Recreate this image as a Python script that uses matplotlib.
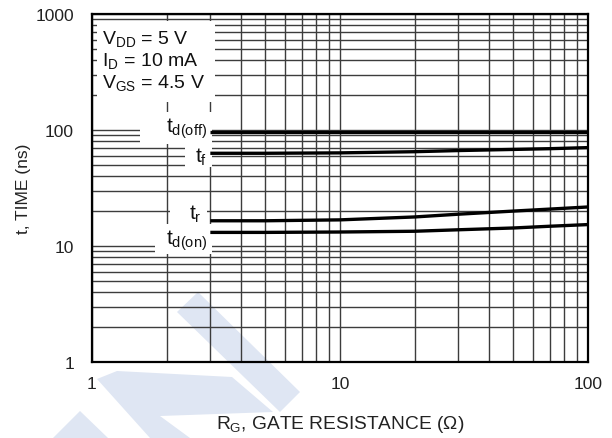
import numpy as np
import matplotlib
matplotlib.use('Agg')
import matplotlib.pyplot as plt
from matplotlib.patches import Rectangle, Polygon

plt.rcParams['font.family'] = ['Liberation Sans', 'DejaVu Sans']
plt.rcParams['mathtext.default'] = 'regular'

# Values
rg = [3, 5, 10, 20, 30, 50, 70, 100]
td_off = [96, 96, 96, 96, 96, 96, 96, 96]
t_f = [63, 63, 63.5, 65, 66.5, 68, 69, 70.5]
t_r = [16.5, 16.5, 16.8, 17.8, 18.8, 20, 20.8, 21.7]
td_on = [13.1, 13.1, 13.2, 13.4, 13.8, 14.3, 14.8, 15.3]

x_ticks = [1, 10, 100]
x_labels = ['1', '10', '100']
y_ticks = [1, 10, 100, 1000]
y_labels = ['1', '10', '100', '1000']

W, H = 612, 439
fig = plt.figure(figsize=(W / 100, H / 100), dpi=100)
fig.patch.set_facecolor('white')

# faint watermark shapes (figure pixels)
wm_color = '#dfe6f3'
shapes = [
    [(177, 313), (198, 293), (300, 393), (280, 413)],
    [(97, 380), (117, 372), (232, 378), (273, 413), (160, 417), (190, 439), (150, 439)],
    [(53, 439), (80, 412), (108, 439)],
]
for s in shapes:
    pts = [(x / W, 1 - y / H) for x, y in s]
    fig.add_artist(Polygon(pts, closed=True, facecolor=wm_color, edgecolor='none',
                           transform=fig.transFigure, zorder=0))

ax = fig.add_axes([92 / W, 1 - 363 / H, (588 - 92) / W, (363 - 15) / H])
ax.set_facecolor('none')
ax.set_zorder(1)
ax.set_xscale('log')
ax.set_yscale('log')
ax.set_xlim(1, 100)
ax.set_ylim(1, 1000)

ax.grid(True, which='both', color='#3c3c3c', linewidth=1.0)

# white masks behind the labels
masks = [
    (1.047, 174, 3.13, 871),
    (1.56, 75.7, 3.05, 143),
    (2.37, 48, 3.05, 75.7),
    (2.06, 15.5, 2.91, 25.4),
    (1.80, 8.53, 3.05, 15.5),
]
for x0, y0, x1, y1 in masks:
    ax.add_patch(Rectangle((x0, y0), x1 - x0, y1 - y0, facecolor='white',
                           edgecolor='none', zorder=2))

for y in [td_off, t_f, t_r, td_on]:
    ax.plot(rg, y, color='black', linewidth=2.4, zorder=3, solid_capstyle='butt')

ax.text(1.1, 760, 'V$_{DD}$ = 5 V\nI$_{D}$ = 10 mA\nV$_{GS}$ = 4.5 V',
        fontsize=14, va='top', ha='left', linespacing=1.15, zorder=4, color='#111111')
lab_kw = dict(fontsize=15, ha='right', va='center', zorder=4, color='#111111')
ax.text(2.92, 104, 't$_{d(off)}$', **lab_kw)
ax.text(2.92, 59, 't$_{f}$', **lab_kw)
ax.text(2.78, 19, 't$_{r}$', **lab_kw)
ax.text(2.92, 11.3, 't$_{d(on)}$', **lab_kw)

ax.set_xticks(x_ticks)
ax.set_xticklabels(x_labels)
ax.set_yticks(y_ticks)
ax.set_yticklabels(y_labels)
ax.tick_params(which='both', length=0, labelsize=12.5, colors='#222222')
ax.tick_params(axis='x', pad=10)
ax.tick_params(axis='y', pad=13)

for sp in ax.spines.values():
    sp.set_linewidth(1.6)
    sp.set_color('black')
    sp.set_zorder(5)

ax.set_xlabel('R$_{G}$, GATE RESISTANCE (Ω)', fontsize=13.8, labelpad=16, color='#222222')
ax.set_ylabel('t, TIME (ns)', fontsize=12.5, labelpad=3, color='#222222')

fig.savefig('out.png', dpi=100)
